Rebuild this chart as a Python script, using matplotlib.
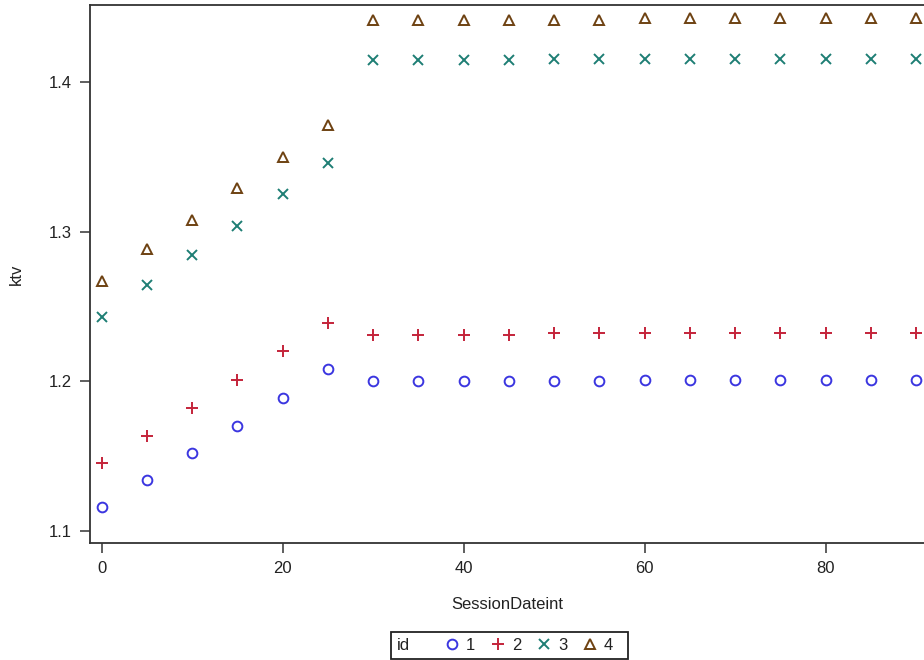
import numpy as np
import matplotlib
matplotlib.use("Agg")
import matplotlib.pyplot as plt
from matplotlib.patches import Rectangle

plt.rcParams['font.family'] = ['Liberation Sans', 'DejaVu Sans']

# ---- data ----
session = [0, 5, 10, 15, 20, 25, 30, 35, 40, 45, 50, 55, 60, 65, 70, 75, 80, 85, 90]

ktv_1 = [1.116, 1.134, 1.152, 1.170, 1.189, 1.208, 1.200, 1.200, 1.200, 1.200,
         1.200, 1.200, 1.2007, 1.2007, 1.2007, 1.2007, 1.2007, 1.2007, 1.2007]
ktv_2 = [1.145, 1.163, 1.182, 1.201, 1.220, 1.239, 1.231, 1.231, 1.231, 1.231,
         1.232, 1.232, 1.232, 1.232, 1.232, 1.232, 1.232, 1.232, 1.232]
ktv_3 = [1.243, 1.264, 1.284, 1.304, 1.325, 1.346, 1.4147, 1.4147, 1.4147, 1.4147,
         1.4155, 1.4155, 1.4155, 1.4155, 1.4155, 1.4155, 1.4155, 1.4155, 1.4155]
ktv_4 = [1.267, 1.288, 1.308, 1.329, 1.350, 1.371, 1.4413, 1.4413, 1.4413, 1.4413,
         1.4413, 1.4413, 1.4425, 1.4425, 1.4425, 1.4425, 1.4425, 1.4425, 1.4425]

ids = ['1', '2', '3', '4']
series = [ktv_1, ktv_2, ktv_3, ktv_4]
markers = ['o', '+', 'x', '^']
colors = ['#3B36E0', '#C4243A', '#1E7E74', '#6E4212']
sizes = [7, 8.5, 7.5, 7]

fig = plt.figure(figsize=(9.24, 6.6), dpi=100)
ax = fig.add_axes([90 / 924, 1 - 543 / 660, 1 - 90 / 924, (543 - 5) / 660])

handles = []
for lab, y, m, c, s in zip(ids, series, markers, colors, sizes):
    if m in ('o', '^'):
        h, = ax.plot(session, y, linestyle='none', marker=m, markersize=s,
                     markerfacecolor='none', markeredgecolor=c, markeredgewidth=1.4, label=lab)
    else:
        h, = ax.plot(session, y, linestyle='none', marker=m, markersize=s,
                     color=c, markeredgewidth=1.4, label=lab)
    handles.append(h)

ax.set_xlim(-1.29, 90.86)
ax.set_ylim(1.0918, 1.4514)
ax.set_xticks([0, 20, 40, 60, 80])
ax.set_yticks([1.1, 1.2, 1.3, 1.4])
ax.set_yticklabels(['1.1', '1.2', '1.3', '1.4'])

for side in ['left', 'bottom', 'top']:
    ax.spines[side].set_color('#333333')
    ax.spines[side].set_linewidth(1.3)
ax.spines['right'].set_visible(False)
ax.tick_params(direction='out', length=7, width=1.1, color='#333333',
               labelsize=12, labelcolor='#222222', pad=6)

ax.set_xlabel('SessionDateint', fontsize=12, color='#222222', labelpad=15)
ax.set_ylabel('ktv', fontsize=12, color='#222222', labelpad=18)

# legend: frame + "id" drawn by hand, entries in one row
fig.patches.append(Rectangle((391 / 924, 1 - 659 / 660), (628 - 391) / 924, 27 / 660,
                             transform=fig.transFigure, fill=False,
                             edgecolor='#222222', linewidth=1.3))
fig.text(397 / 924, 1 - 645.5 / 660, 'id', fontsize=12, color='#222222',
         ha='left', va='center')
fig.legend(handles=handles, loc='center', bbox_to_anchor=(529 / 924, 1 - 645.5 / 660),
           ncol=4, frameon=False, fontsize=12, handlelength=0.8, handletextpad=0.45,
           columnspacing=0.95, borderpad=0, labelcolor='#222222')

fig.savefig('out.png', dpi=100)
